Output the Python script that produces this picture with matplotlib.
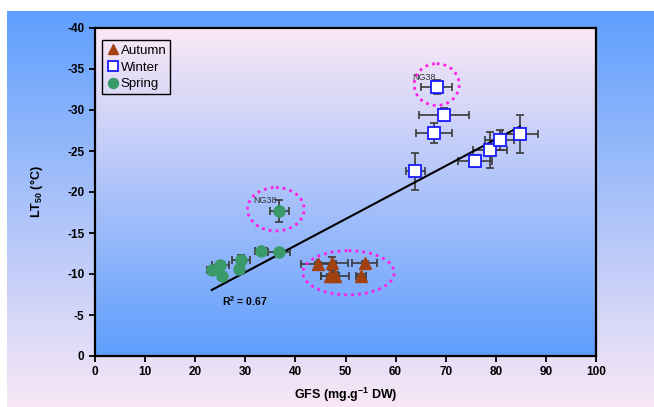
import numpy as np
import matplotlib
matplotlib.use('Agg')
import matplotlib.pyplot as plt
from matplotlib.patches import Ellipse
from matplotlib.colors import LinearSegmentedColormap

plt.rcParams['font.family'] = ['Liberation Sans', 'DejaVu Sans']
plt.rcParams['mathtext.fontset'] = 'custom'
plt.rcParams['mathtext.rm'] = 'Liberation Sans'
plt.rcParams['mathtext.bf'] = 'Liberation Sans:bold'
plt.rcParams['axes.unicode_minus'] = False

# %% data (GFS mg/g DW, LT50 degC)
autumn_x = [44.6, 47.4, 53.8, 46.9, 47.9, 53.0]
autumn_y = [-11.2, -11.3, -11.3, -9.7, -9.75, -9.7]
autumn_xerr = [3.5, 3.1, 2.5, 1.8, 2.7, 1.0]
autumn_yerr = [0.3, 0.8, 0.3, 0.3, 0.5, 0.3]

winter_x = [68.2, 69.7, 67.6, 63.9, 75.8, 78.8, 80.8, 84.8]
winter_y = [-32.8, -29.4, -27.2, -22.5, -23.8, -25.1, -26.3, -27.1]
winter_xerr = [3.1, 5.0, 3.6, 1.9, 3.4, 3.4, 2.9, 3.6]
winter_yerr = [0.8, 0.8, 1.2, 2.3, 0.7, 2.2, 1.2, 2.3]

spring_x = [36.8, 33.1, 36.8, 29.1, 28.8, 25.0, 23.4, 25.3]
spring_y = [-17.7, -12.8, -12.7, -11.7, -10.6, -11.1, -10.5, -9.7]
spring_xerr = [1.9, 1.2, 2.2, 1.8, 0.5, 1.7, 1.0, 0.5]
spring_yerr = [1.3, 0.3, 0.3, 0.6, 0.3, 0.3, 0.3, 0.3]

# trend line
trend_slope = -0.324
trend_intercept = -0.5
trend_x = [23.3, 84.8]
r2_text = 'R$^{\\mathbf{2}}$ = 0.67'

# %% figure
fig = plt.figure(figsize=(6.54, 4.07), dpi=100)

# outer gradient panel (blue top -> pink bottom)
bg = fig.add_axes([7/654, 0, 1 - 7/654, 1 - 11/407], zorder=-10)
bg_cmap = LinearSegmentedColormap.from_list('bg', ['#5f9ffd', '#f8e7f6'])
bg.imshow(np.linspace(0, 1, 256).reshape(-1, 1), aspect='auto', cmap=bg_cmap,
          extent=[0, 1, 0, 1], origin='upper')
bg.axis('off')

ax = fig.add_axes([95/654, 1 - 356/407, (596 - 95)/654, (356 - 28)/407])
ax_cmap = LinearSegmentedColormap.from_list('ax', ['#fbe8f6', '#5e9efd'])
ax.imshow(np.linspace(0, 1, 256).reshape(-1, 1), aspect='auto', cmap=ax_cmap,
          extent=[0, 100, 0, -40], origin='upper', zorder=0)

ebar = dict(fmt='none', ecolor='#3a3a3a', elinewidth=1.2, capsize=3, capthick=1.2, zorder=2)
ax.errorbar(autumn_x, autumn_y, xerr=autumn_xerr, yerr=autumn_yerr, **ebar)
ax.errorbar(winter_x, winter_y, xerr=winter_xerr, yerr=winter_yerr, **ebar)
ax.errorbar(spring_x, spring_y, xerr=spring_xerr, yerr=spring_yerr, **ebar)

tx = np.array(trend_x)
ax.plot(tx, trend_slope * tx + trend_intercept, color='black', lw=1.5, zorder=3)

ax.plot(autumn_x, autumn_y, '^', color='#a3400f', ms=8, ls='none', label='Autumn', zorder=4)
ax.plot(winter_x, winter_y, 's', mfc='white', mec='#1a1aff', mew=1.3, ms=8, ls='none',
        label='Winter', zorder=4)
ax.plot(spring_x, spring_y, 'o', color='#3a9a6a', ms=8, ls='none', label='Spring', zorder=4)

# dotted circles around outliers
for cx, cy, w, h in [(68.2, -33.1, 9.0, 5.1), (36.1, -17.9, 11.3, 5.3), (50.6, -10.15, 18.2, 5.4)]:
    ax.add_patch(Ellipse((cx, cy), w, h, fill=False, edgecolor='#ff1ee6', lw=2,
                         linestyle=(0, (1, 1.5)), zorder=5))

ax.text(63.4, -34.0, 'NG38', fontsize=6.5, color='#333333', va='center', zorder=6)
ax.text(31.6, -19.0, 'NG38', fontsize=6.5, color='#333333', va='center', zorder=6)
ax.text(25.3, -6.7, r2_text, fontsize=7.5, fontweight='bold', va='center', zorder=6)

ax.set_xlim(0, 100)
ax.set_ylim(0, -40)
ax.set_xticks(range(0, 101, 10))
ax.set_yticks(range(0, -41, -5))
ax.tick_params(direction='out', length=4, width=1.3, labelsize=8.5, colors='black')
for lab in ax.get_xticklabels() + ax.get_yticklabels():
    lab.set_fontweight('bold')
for s in ax.spines.values():
    s.set_linewidth(1.6)

ax.set_xlabel(r'GFS (mg.g$^{\mathbf{-1}}$ DW)', fontsize=9, fontweight='bold', labelpad=5)
ax.set_ylabel(r'LT$_{\mathbf{50}}$ (°C)', fontsize=9, fontweight='bold', labelpad=16)

leg = ax.legend(loc='upper left', bbox_to_anchor=(0.014, 0.962), fontsize=9.5,
                frameon=True, fancybox=False, facecolor='none', edgecolor='black',
                handletextpad=0.1, handlelength=1.0, borderpad=0.3, labelspacing=0.35,
                borderaxespad=0, markerscale=0.9)
leg.get_frame().set_linewidth(1)
leg.get_frame().set_alpha(None)

plt.savefig('out.png', dpi=100)
